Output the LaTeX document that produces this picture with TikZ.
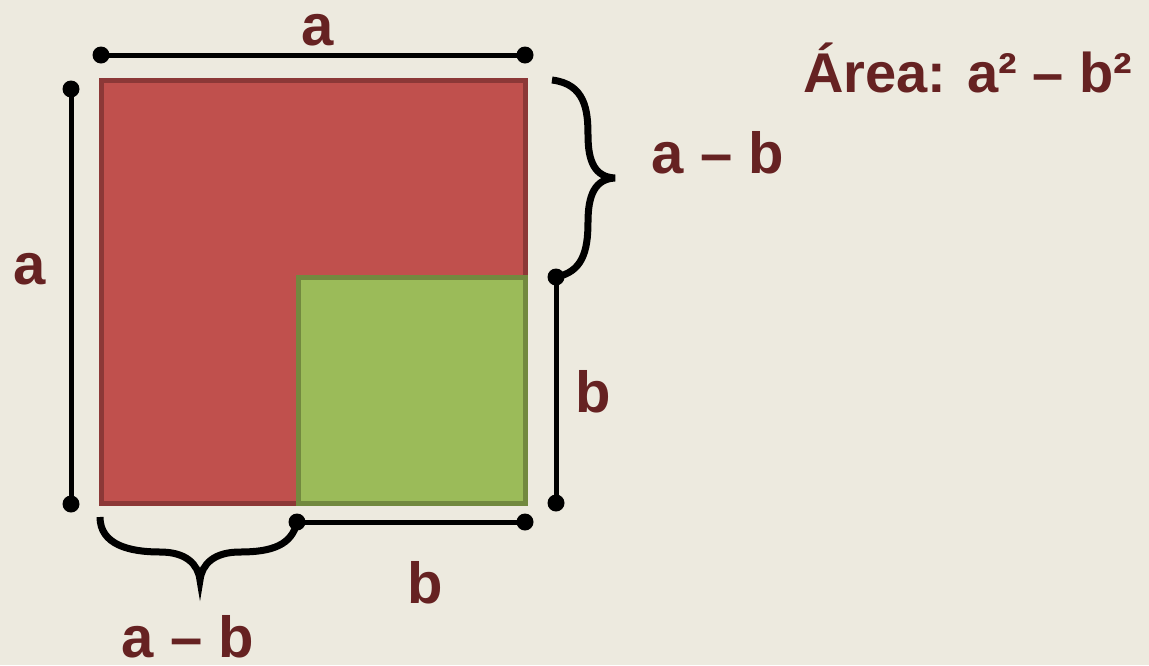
\documentclass[tikz,border=0pt]{standalone}
\usepackage{fontspec}
\setmainfont{Liberation Sans}
\usepackage{xcolor}
\usetikzlibrary{positioning}
\definecolor{paperbg}{RGB}{237,234,223}
\definecolor{sqred}{RGB}{192,80,77}
\definecolor{sqredline}{RGB}{140,56,55}
\definecolor{sqgreen}{RGB}{155,187,89}
\definecolor{sqgreenline}{RGB}{114,137,63}
\definecolor{labelred}{RGB}{102,34,34}

\begin{document}
\begin{tikzpicture}[
    x=1pt, y=-1pt,
    measure/.style={line width=5pt, color=black},
    brace/.style={line width=7pt, color=black},
    dot/.style={circle, fill=black, inner sep=0pt, minimum size=17pt},
    dimlabel/.style={
        anchor=base,
        inner sep=0pt,
        text=labelred,
        font=\fontsize{58}{70}\selectfont\bfseries
    },
    title/.style={
        anchor=base west,
        inner sep=0pt,
        text=labelred,
        font=\fontsize{56}{67}\selectfont\bfseries
    }
]
\useasboundingbox[fill=paperbg] (0,0) rectangle (1149,665);

% squares
\filldraw[fill=sqred, draw=sqredline, line width=5pt] (101.5,80.5) rectangle (525.5,503.5);
\filldraw[fill=sqgreen, draw=sqgreenline, line width=5pt] (298.5,277.5) rectangle (525.5,503.5);

% end points
\node[dot] (topl) at (101,55) {};
\node[dot] (topr) at (525,55) {};
\node[dot] (leftt) at (71,89) {};
\node[dot] (leftb) at (71,504) {};
\node[dot] (rightt) at (556,277) {};
\node[dot] (rightb) at (556,503) {};
\node[dot] (botl) at (297,522) {};
\node[dot] (botr) at (525,522) {};
\coordinate (bracet) at (552,80);
\coordinate (bracel) at (100,517);

% measures
\draw[measure] (topl.center) -- (topr.center);
\draw[measure] (leftt.center) -- (leftb.center);
\draw[measure] (rightt.center) -- (rightb.center);
\draw[measure] (botl.center) -- (botr.center);

% braces
\draw[brace] (bracet) .. controls (585,84) and (588,110) .. (588,135)
    .. controls (588,162) and (595,177) .. (615,178)
    .. controls (595,179) and (588,195) .. (588,222)
    .. controls (588,252) and (582,272) .. (rightt.center);
\draw[brace] (bracel) .. controls (100,545) and (130,552) .. (160,552)
    .. controls (186,552) and (198,564) .. (200,580)
    .. controls (202,564) and (214,552) .. (240,552)
    .. controls (272,552) and (292,545) .. (botl.center);

% labels
\node[dimlabel] (atop) at (318,45) {a};
\node[dimlabel] (aleft) at (30,284) {a};
\node[dimlabel] (amb) at (718,173) {a – b};
\node[dimlabel] (bright) at (593,412) {b};
\node[dimlabel] (bbot) at (425,603) {b};
\node[dimlabel] (ambbot) at (188,657) {a – b};
\node[title] (area) at (803,92) {Área: a² – b²};

\end{tikzpicture}
\end{document}
